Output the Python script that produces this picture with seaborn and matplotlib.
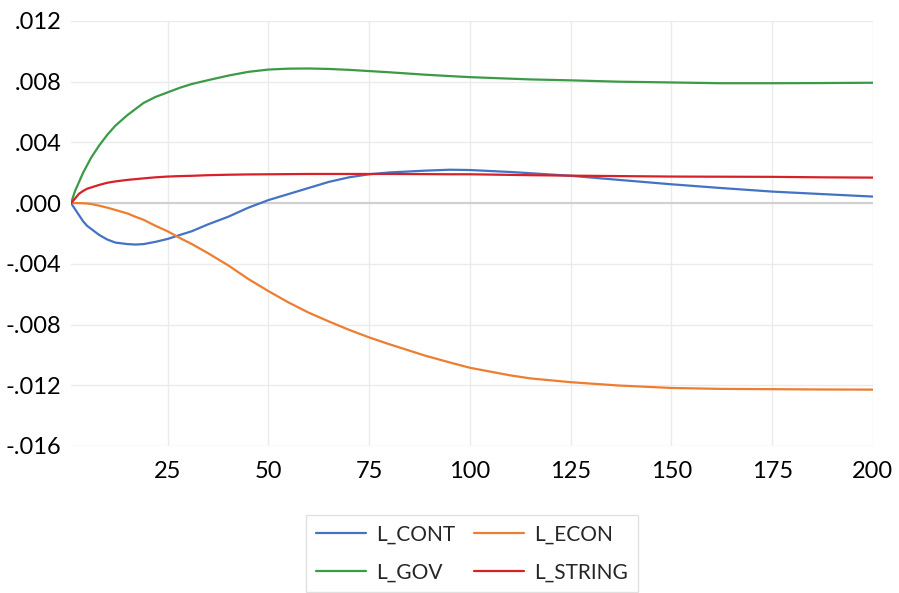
import numpy as np
import pandas as pd
import seaborn as sns
from matplotlib import pyplot as plt
from matplotlib.ticker import FuncFormatter, MultipleLocator

# periods (responses over 200 periods)
periods = [1, 2, 3, 4, 5, 6, 8, 10, 12, 15, 17, 19, 22, 25, 28, 31, 35, 40, 45, 50,
           55, 60, 65, 70, 75, 80, 89, 95, 100, 110, 115, 125, 137, 150, 162, 175, 187, 200]

l_cont = [0, -0.0004, -0.0008, -0.0012, -0.0015, -0.0017, -0.0021, -0.0024, -0.0026, -0.0027,
          -0.00273, -0.0027, -0.00255, -0.00236, -0.0021, -0.00185, -0.0014, -0.0009, -0.0003, 0.0002,
          0.0006, 0.001, 0.0014, 0.0017, 0.0019, 0.00202, 0.00214, 0.0022, 0.00218, 0.00205,
          0.00197, 0.0018, 0.00153, 0.00124, 0.001, 0.00076, 0.0006, 0.00043]
l_econ = [0, 0, 0, -0.00001, -0.00003, -0.00006, -0.00017, -0.0003, -0.00045, -0.00068,
          -0.0009, -0.0011, -0.0015, -0.00186, -0.0023, -0.0027, -0.0033, -0.0041, -0.005, -0.0058,
          -0.00655, -0.00722, -0.0078, -0.00835, -0.00885, -0.0093, -0.01006, -0.0105, -0.01085, -0.01135,
          -0.01155, -0.0118, -0.01202, -0.01218, -0.01224, -0.01226, -0.01228, -0.01229]
l_gov = [0, 0.0008, 0.0014, 0.002, 0.0025, 0.003, 0.0038, 0.0045, 0.0051, 0.0058,
         0.0062, 0.0066, 0.007, 0.0073, 0.0076, 0.00785, 0.0081, 0.0084, 0.00865, 0.0088,
         0.00886, 0.00887, 0.00884, 0.00878, 0.0087, 0.00862, 0.00846, 0.00837, 0.0083, 0.0082,
         0.00815, 0.00809, 0.008, 0.00795, 0.0079, 0.0079, 0.00791, 0.00793]
l_string = [0, 0.0003, 0.00062, 0.0008, 0.00095, 0.00103, 0.0012, 0.00134, 0.00143, 0.00153,
            0.00158, 0.00163, 0.0017, 0.00175, 0.00178, 0.0018, 0.00184, 0.00187, 0.00189, 0.0019,
            0.00191, 0.00192, 0.00192, 0.00192, 0.00192, 0.00192, 0.00191, 0.0019, 0.0019, 0.00186,
            0.00184, 0.00181, 0.00178, 0.00175, 0.00174, 0.00173, 0.0017, 0.00168]

series = {'L_CONT': l_cont, 'L_ECON': l_econ, 'L_GOV': l_gov, 'L_STRING': l_string}
colors = {'L_CONT': '#4472C4', 'L_ECON': '#ED7D31', 'L_GOV': '#3C9A46', 'L_STRING': '#D62128'}

df = pd.concat([pd.DataFrame({'period': periods, 'value': v, 'var': k}) for k, v in series.items()])

sns.set_style('white')
plt.rcParams['font.family'] = ['Lato', 'DejaVu Sans']

fig = plt.figure(figsize=(8.99, 5.93), dpi=100)
ax = fig.add_axes([0.079, 0.248, 0.892, 0.7166])

sns.lineplot(data=df, x='period', y='value', hue='var', palette=colors, lw=1.6, legend=False, ax=ax)

ax.set_xlim(1, 200)
ax.set_ylim(-0.016, 0.012)
ax.xaxis.set_major_locator(MultipleLocator(25))
ax.yaxis.set_major_locator(MultipleLocator(0.004))
ax.yaxis.set_major_formatter(FuncFormatter(lambda v, p: f"{v:.3f}".replace('0.', '.', 1)))
ax.set_xlabel('')
ax.set_ylabel('')
ax.tick_params(axis='both', length=0, labelsize=17, colors='black')
ax.tick_params(axis='x', pad=11)
ax.tick_params(axis='y', pad=7)
for s in ax.spines.values():
    s.set_visible(False)

ax.grid(True, color='#EBEBEB', lw=1)
ax.set_axisbelow(True)
ygl = ax.yaxis.get_gridlines()
ygl[0].set_visible(False)
ygl[-1].set_visible(False)
ax.axhline(0, color='#D0D0D0', lw=1.5, zorder=1)

order = ['L_CONT', 'L_GOV', 'L_ECON', 'L_STRING']
hl = [plt.Line2D([], [], color=colors[k], lw=1.6) for k in order]
leg = fig.legend(hl, order, loc='upper center', bbox_to_anchor=(0.525, 0.1315), ncol=2,
                 fontsize=15, frameon=True, fancybox=False, handlelength=2.4, borderaxespad=0,
                 handletextpad=0.5, columnspacing=0.9, borderpad=0.45, labelspacing=0.88)
leg.get_frame().set_edgecolor('#D9D9D9')
leg.get_frame().set_linewidth(1)

plt.savefig('out.png', dpi=100)
